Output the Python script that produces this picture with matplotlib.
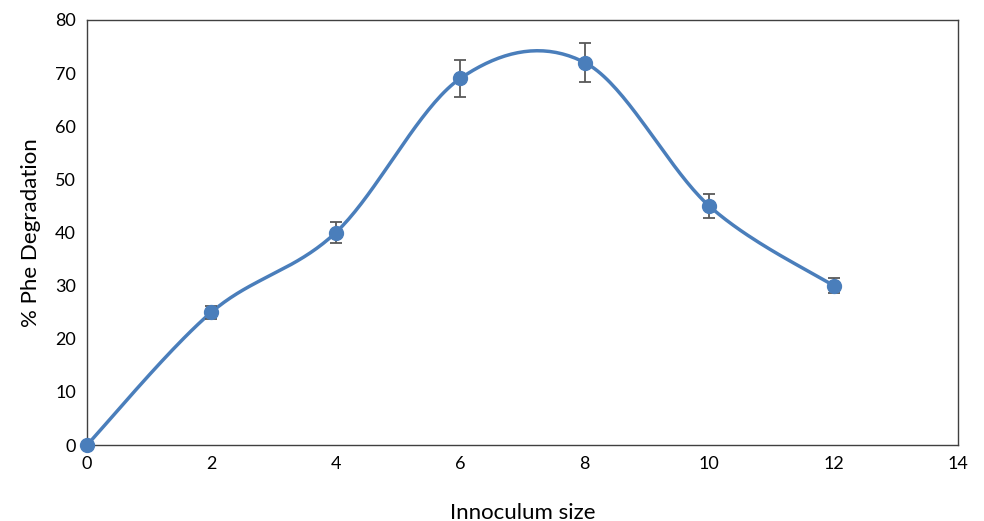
import numpy as np
import matplotlib.pyplot as plt

plt.rcParams['font.family'] = ['Lato', 'DejaVu Sans']

# data
size = [0, 2, 4, 6, 8, 10, 12]
degr = [0, 25, 40, 69, 72, 45, 30]
err = [0, 1.2, 2.0, 3.5, 3.6, 2.3, 1.4]


def smooth(x, y, n=40):
    # Excel-style smoothed line: cubic Bezier with Catmull-Rom control points
    x = np.asarray(x, float)
    y = np.asarray(y, float)
    px = np.concatenate([[x[0]], x, [x[-1]]])
    py = np.concatenate([[y[0]], y, [y[-1]]])
    xs, ys = [], []
    t = np.linspace(0, 1, n)
    for i in range(1, len(px) - 2):
        p0 = np.array([px[i], py[i]])
        p3 = np.array([px[i + 1], py[i + 1]])
        p1 = p0 + (np.array([px[i + 1], py[i + 1]]) - np.array([px[i - 1], py[i - 1]])) / 6
        p2 = p3 - (np.array([px[i + 2], py[i + 2]]) - np.array([px[i], py[i]])) / 6
        b = ((1 - t) ** 3)[:, None] * p0 + (3 * (1 - t) ** 2 * t)[:, None] * p1 \
            + (3 * (1 - t) * t ** 2)[:, None] * p2 + (t ** 3)[:, None] * p3
        xs.extend(b[:, 0])
        ys.extend(b[:, 1])
    return xs, ys


fig = plt.figure(figsize=(9.84, 5.21), dpi=100)
ax = fig.add_axes([87 / 984, 1 - 445 / 521, (958 - 87) / 984, (445 - 20) / 521])

sx, sy = smooth(size, degr)
ax.plot(sx, sy, color="#4a7ebb", lw=2.5, zorder=2, clip_on=False)
ax.errorbar(size, degr, yerr=err, fmt="none", ecolor="#595959", elinewidth=1.3,
            capsize=4, capthick=1.3, zorder=3)
ax.plot(size, degr, "o", color="#4a7ebb", ms=10, zorder=4, clip_on=False)

ax.set_xlim(0, 14)
ax.set_ylim(0, 80)
ax.set_xticks(range(0, 15, 2))
ax.set_yticks(range(0, 81, 10))
ax.tick_params(length=0, labelsize=13, colors="black", pad=8)
for s in ax.spines.values():
    s.set_color("#404040")
    s.set_linewidth(1)
ax.set_xlabel("Innoculum size", fontsize=16, labelpad=22)
ax.set_ylabel("% Phe Degradation", fontsize=16, labelpad=10)

fig.savefig("out.png", dpi=100)
